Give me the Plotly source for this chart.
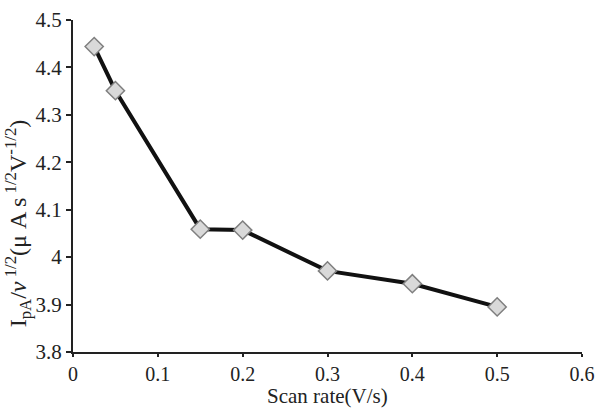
import plotly.graph_objects as go

scan_rate = [0.025, 0.05, 0.15, 0.2, 0.3, 0.4, 0.5]
ipa_ratio = [4.444, 4.351, 4.059, 4.057, 3.971, 3.944, 3.895]

x_ticks = [0, 0.1, 0.2, 0.3, 0.4, 0.5, 0.6]
x_labels = ["0", "0.1", "0.2", "0.3", "0.4", "0.5", "0.6"]
y_ticks = [3.8, 3.9, 4.0, 4.1, 4.2, 4.3, 4.4, 4.5]
y_labels = ["3.8", "3.9", "4", "4.1", "4.2", "4.3", "4.4", "4.5"]

font_family = "'Liberation Serif', 'Times New Roman', serif"

fig = go.Figure()
fig.add_trace(go.Scatter(
    x=scan_rate, y=ipa_ratio, mode="lines+markers",
    line=dict(color="#111111", width=4),
    marker=dict(symbol="diamond", size=14, color="#d9d9d9",
                line=dict(color="#7f7f7f", width=1.5)),
    showlegend=False,
))

fig.update_layout(
    width=600, height=409,
    margin=dict(l=73, r=18, t=20, b=57),
    paper_bgcolor="white", plot_bgcolor="white",
    font=dict(family=font_family, size=21, color="#222222"),
    xaxis=dict(range=[0, 0.6], tickvals=x_ticks, ticktext=x_labels,
               automargin=False, tickfont=dict(size=20),
               showline=True, linecolor="#222222", linewidth=2,
               ticks="outside", ticklen=3, tickwidth=2, tickcolor="#222222",
               showgrid=False, zeroline=False),
    yaxis=dict(range=[3.8, 4.5], tickvals=y_ticks, ticktext=y_labels,
               automargin=False,
               showline=True, linecolor="#222222", linewidth=2,
               ticks="outside", ticklen=5, tickwidth=2, tickcolor="#222222",
               showgrid=False, zeroline=False),
)

fig.add_annotation(
    text="Scan rate(V/s)",
    xref="paper", yref="paper", x=0.5, y=-0.133,
    xanchor="center", yanchor="middle", showarrow=False, borderpad=0,
    font=dict(family=font_family, size=21, color="#222222"),
)

fig.add_annotation(
    text="I<sub>pA</sub>/<i>v</i><sup> 1/2</sup>(μ A s<sup> 1/2</sup>V<sup>-1/2</sup>)",
    xref="paper", yref="paper", x=-0.109, y=0.386,
    xanchor="center", yanchor="middle", textangle=-90, showarrow=False,
    font=dict(family=font_family, size=24, color="#222222"),
)

fig.write_html("out.html")
